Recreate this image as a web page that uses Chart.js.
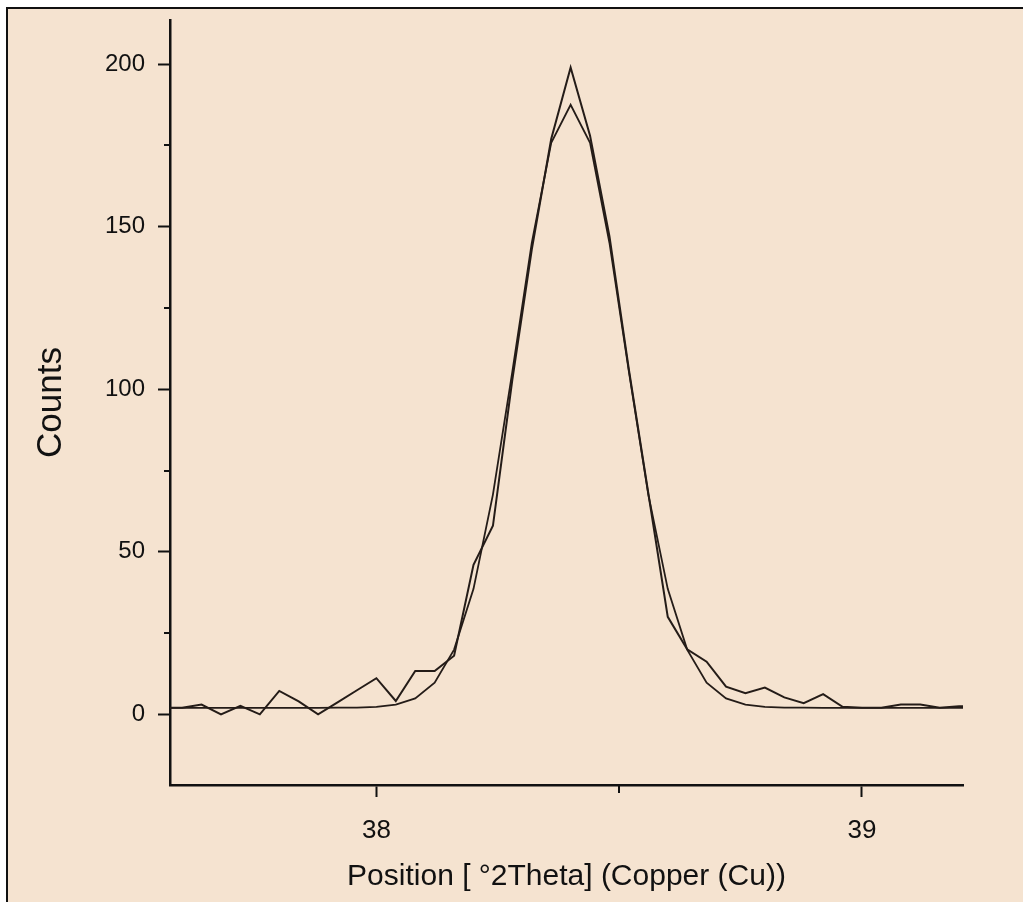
<!DOCTYPE html>
<html>
<head>
<meta charset="utf-8">
<script src="https://cdn.jsdelivr.net/npm/chart.js@4.4.0/dist/chart.umd.min.js"></script>
<style>
  body { margin: 0; background: rgb(245,227,208); overflow: hidden; }
  canvas { display: block; }
</style>
</head>
<body>
<canvas id="xrd" width="1023" height="902"></canvas>
<script>
// position in degrees 2theta, step 0.04
const twoTheta = [37.56, 37.60, 37.64, 37.68, 37.72, 37.76, 37.80, 37.84, 37.88, 37.92, 37.96,
                  38.00, 38.04, 38.08, 38.12, 38.16, 38.20, 38.24, 38.28, 38.32, 38.36, 38.40,
                  38.44, 38.48, 38.52, 38.56, 38.60, 38.64, 38.68, 38.72, 38.76, 38.80, 38.84,
                  38.88, 38.92, 38.96, 39.00, 39.04, 39.08, 39.12, 39.16, 39.20, 39.24];
// measured counts
const observed = [2, 2, 3, 0, 2.6, 0, 7.2, 4, 0, 3.7, 7.4,
                  11.1, 4.1, 13.3, 13.3, 18, 46, 58, 103, 143, 177, 199,
                  178, 147, 106, 68, 30, 20, 16.2, 8.5, 6.5, 8.2, 5.2,
                  3.4, 6.2, 2.3, 2, 2, 3, 3, 2, 2.5, 2.5];
// fitted profile
const fitted = [2, 2, 2, 2, 2, 2, 2, 2, 2, 2.05, 2.05,
                2.3, 3.0, 4.9, 9.7, 19.9, 38.6, 67.6, 105.4, 145, 175.8, 187.5,
                175.8, 145, 105.4, 67.6, 38.6, 19.9, 9.7, 4.9, 3.0, 2.3, 2.05,
                2.05, 2, 2, 2, 2, 2, 2, 2, 2, 2];

const xTicks = [38, 39];
const xMinorTicks = [38.5];
const yTicks = [0, 50, 100, 150, 200];
const yMinorTicks = [25, 75, 125, 175];

const ink = '#241c18';
const paper = 'rgb(245,227,208)';
const sans = "'Liberation Sans', Arial, sans-serif";

const toPoints = ys => twoTheta.map((x, i) => ({ x: x, y: ys[i] }));

const backdrop = {
  id: 'backdrop',
  beforeDraw(chart) {
    const { ctx, width, height } = chart;
    ctx.save();
    ctx.fillStyle = '#fff';
    ctx.fillRect(0, 0, width, height);
    ctx.fillStyle = paper;
    ctx.fillRect(8, 9, width - 8, height - 9);
    ctx.fillStyle = '#111';
    ctx.fillRect(6, 7, 2, height - 7);
    ctx.fillRect(6, 7, width - 6, 2);
    ctx.restore();
  }
};

const minorTicks = {
  id: 'minorTicks',
  afterDraw(chart) {
    const { ctx, chartArea } = chart;
    const xs = chart.scales.x, ys = chart.scales.y;
    ctx.save();
    ctx.strokeStyle = '#111';
    ctx.lineWidth = 2;
    ctx.beginPath();
    yMinorTicks.forEach(v => {
      const py = Math.round(ys.getPixelForValue(v));
      ctx.moveTo(chartArea.left - 6, py);
      ctx.lineTo(chartArea.left, py);
    });
    xMinorTicks.forEach(v => {
      const px = Math.round(xs.getPixelForValue(v));
      ctx.moveTo(px, chartArea.bottom);
      ctx.lineTo(px, chartArea.bottom + 8);
    });
    ctx.stroke();
    ctx.restore();
  }
};

new Chart(document.getElementById('xrd'), {
  type: 'line',
  data: {
    datasets: [
      { label: 'Observed', data: toPoints(observed), borderColor: ink, borderWidth: 2, pointRadius: 0, tension: 0 },
      { label: 'Fitted', data: toPoints(fitted), borderColor: ink, borderWidth: 1.8, pointRadius: 0, tension: 0 }
    ]
  },
  options: {
    responsive: false,
    animation: false,
    layout: { padding: { top: 20, right: 60, left: 0, bottom: 0 } },
    plugins: { legend: { display: false }, tooltip: { enabled: false } },
    scales: {
      x: {
        type: 'linear',
        min: 37.575,
        max: 39.208,
        afterBuildTicks: s => { s.ticks = xTicks.map(v => ({ value: v })); },
        afterFit: s => { s.height = 117; s.paddingLeft = 0; s.paddingRight = 0; },
        ticks: { color: '#111', font: { family: sans, size: 26 }, padding: 18, callback: v => String(v), maxRotation: 0 },
        grid: { drawOnChartArea: false, tickLength: 12, tickColor: '#111', tickWidth: 2 },
        border: { color: '#111', width: 2.5 },
        title: { display: true, text: 'Position [ °2Theta] (Copper (Cu))', color: '#111',
                 font: { family: sans, size: 30 }, padding: { top: 0, bottom: 7 } }
      },
      y: {
        min: -21.75,
        max: 213.6,
        afterBuildTicks: s => { s.ticks = yTicks.map(v => ({ value: v })); },
        afterFit: s => { s.width = 170; s.paddingTop = 0; s.paddingBottom = 0; },
        ticks: { color: '#111', font: { family: sans, size: 24 }, padding: 13, callback: v => String(v) },
        grid: { drawOnChartArea: false, tickLength: 12, tickColor: '#111', tickWidth: 2 },
        border: { color: '#111', width: 2.5 },
        title: { display: true, text: 'Counts', color: '#111',
                 font: { family: sans, size: 35 }, padding: { top: 30, bottom: 0 } }
      }
    }
  },
  plugins: [backdrop, minorTicks]
});
</script>
</body>
</html>
